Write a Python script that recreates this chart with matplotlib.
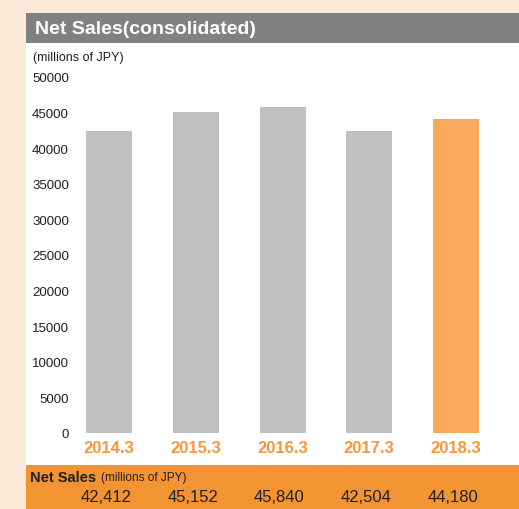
import numpy as np
import matplotlib.pyplot as plt
from matplotlib.patches import Rectangle
from matplotlib.transforms import blended_transform_factory, offset_copy

# data
years = ['2014.3', '2015.3', '2016.3', '2017.3', '2018.3']
sales = [42412, 45152, 45840, 42504, 44180]
yticks = [0, 5000, 10000, 15000, 20000, 25000, 30000, 35000, 40000, 45000, 50000]

W, H = 519, 509
peach = '#FDEBD9'
grey_bar = '#BFC0C2'
orange_bar = '#F9A95C'
orange_band = '#F39433'
orange_text = '#F7963A'
title_grey = '#808183'
dark = '#231F20'

plt.rcParams['font.family'] = ['Liberation Sans', 'DejaVu Sans']

fig = plt.figure(figsize=(W / 100, H / 100), dpi=100)
fig.patch.set_facecolor(peach)

def px(x, y):
    # pixel coords (from top-left) -> figure fraction
    return x / W, 1 - y / H

# white panel
fig.add_artist(Rectangle(px(26, 465), (W - 26) / W, (465 - 43) / H,
                         transform=fig.transFigure, facecolor='white', edgecolor='none', zorder=0))
# title bar
fig.add_artist(Rectangle(px(26, 43), (W - 26) / W, 30 / H,
                         transform=fig.transFigure, facecolor=title_grey, edgecolor='none', zorder=0))
# bottom band
fig.add_artist(Rectangle(px(26, H), (W - 26) / W, (H - 465) / H,
                         transform=fig.transFigure, facecolor=orange_band, edgecolor='none', zorder=0))

fig.text(*px(35, 29.5), 'Net Sales(consolidated)', color='white', fontsize=14,
         fontweight='bold', va='center', ha='left')

# chart axes
y0, y50 = 433.3, 77.5
ax = fig.add_axes([26 / W, (H - y0) / H, (W - 26) / W, (y0 - y50) / H])
ax.set_facecolor('none')
step = 86.75
x = np.arange(len(years))
left_off = (109 - 26) / step
ax.set_xlim(-left_off, -left_off + (W - 26) / step)
ax.set_ylim(0, 50000)
colors = [grey_bar] * (len(years) - 1) + [orange_bar]
ax.bar(x, sales, width=46 / step, color=colors, edgecolor='none')
for s in ax.spines.values():
    s.set_visible(False)
ax.set_xticks([])
ax.set_yticks([])

tr = blended_transform_factory(fig.transFigure, ax.transData)
tr = offset_copy(tr, fig=fig, y=-2, units='dots')
for t in yticks:
    ax.text(69 / W, t, str(t), transform=tr, fontsize=9.5, color=dark,
            va='center', ha='right')
fig.text(*px(33, 58), '(millions of JPY)', fontsize=9, color=dark, va='center', ha='left')

for i, yr in enumerate(years):
    fig.text((109 + i * step) / W, 1 - 448.5 / H, yr, fontsize=12, fontweight='bold',
             color=orange_text, ha='center', va='center')

# bottom table
fig.text(*px(30, 478), 'Net Sales', fontsize=10.5, fontweight='bold', color=dark,
         va='center', ha='left')
fig.text(*px(101, 478), '(millions of JPY)', fontsize=8.5, color=dark,
         va='center', ha='left')
for i, v in enumerate(sales):
    fig.text((106 + i * step) / W, 1 - 497 / H, f'{v:,}', fontsize=12, color=dark,
             ha='center', va='center')

fig.savefig('out.png', dpi=100, facecolor=peach)
